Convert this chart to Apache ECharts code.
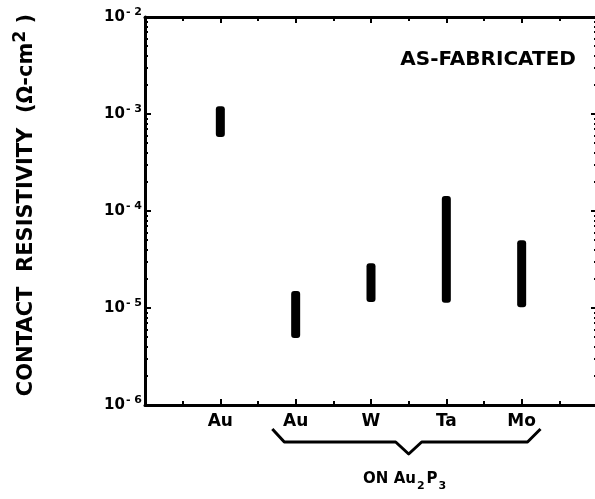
<!DOCTYPE html>
<html>
<head>
<meta charset="utf-8">
<script src="https://cdn.jsdelivr.net/npm/echarts@6/dist/echarts.min.js"></script>
<style>
  html, body { margin: 0; padding: 0; background: #fff; }
  #chart { width: 595px; height: 499px; }
</style>
</head>
<body>
<div id="chart"></div>
<script>
// Contact metals, left to right; the last four sit on Au2P3
const categories = ['Au', 'Au', 'W', 'Ta', 'Mo'];
// Spread of measured contact resistivity (ohm-cm^2) for each metal
const lowValues  = [5.8e-4, 4.9e-6, 1.15e-5, 1.13e-5, 1.02e-5];
const highValues = [1.2e-3, 1.5e-5, 2.9e-5, 1.43e-4, 5.0e-5];
// Decade ticks of the resistivity axis
const decadeTicks = [1e-6, 1e-5, 1e-4, 1e-3, 1e-2];
// Minor ticks inside each decade (2..9 x 10^n)
const minorTicks = [];
decadeTicks.slice(0, -1).forEach(function (d) {
  for (let m = 2; m <= 9; m++) minorTicks.push(m * d);
});

const FONT = 'DejaVu Sans';
const rangeData = categories.map(function (c, i) {
  return [i + 1, lowValues[i], highValues[i]];
});

const chart = echarts.init(document.getElementById('chart'), null, { renderer: 'canvas' });

function logAxis(position, showLabels, ticks, tickLen, showLine) {
  return {
    type: 'log',
    logBase: 10,
    position: position,
    min: 1e-6,
    max: 1e-2,
    splitLine: { show: false },
    axisLine: { show: showLine, onZero: false, lineStyle: { color: '#000', width: 3 } },
    axisTick: {
      show: true, inside: true, length: tickLen, customValues: ticks,
      lineStyle: { color: '#000', width: 2 }
    },
    axisLabel: {
      show: showLabels,
      customValues: decadeTicks,
      margin: 3,
      formatter: function (v) {
        const e = Math.round(-Math.log10(v));
        return '{b|10}{e|- ' + e + '}';
      },
      rich: {
        b: { fontFamily: FONT, fontWeight: 'bold', fontSize: 15, color: '#000' },
        e: { fontFamily: FONT, fontWeight: 'bold', fontSize: 11, color: '#000', padding: [0, 0, 9, 1] }
      }
    }
  };
}

function catAxis(position, showLabels) {
  return {
    type: 'value',
    position: position,
    min: 0,
    max: 6,
    interval: 1,
    splitLine: { show: false },
    axisLine: { show: true, onZero: false, lineStyle: { color: '#000', width: 3 } },
    axisTick: { show: true, inside: true, length: 6, lineStyle: { color: '#000', width: 2 } },
    minorTick: { show: true, splitNumber: 2, length: 4, lineStyle: { color: '#000', width: 2 } },
    axisLabel: {
      show: showLabels,
      margin: 8,
      fontFamily: FONT,
      fontWeight: 'bold',
      fontSize: 17,
      color: '#000',
      showMinLabel: false,
      showMaxLabel: false,
      formatter: function (v) {
        return categories[v - 1] || '';
      }
    }
  };
}

const yMain = logAxis('left', true, decadeTicks, 6, true);
yMain.name = 'CONTACT  RESISTIVITY  (Ω-cm{s|2} )';
yMain.nameLocation = 'middle';
yMain.nameRotate = 90;
yMain.nameGap = 104;
yMain.nameTextStyle = {
  fontFamily: FONT, fontWeight: 'bold', fontSize: 21, color: '#000',
  padding: [0, 0, 0, 12],
  rich: {
    s: { fontFamily: FONT, fontWeight: 'bold', fontSize: 17, color: '#000', padding: [0, 0, 12, 0] }
  }
};

chart.setOption({
  animation: false,
  backgroundColor: '#fff',
  grid: {
    left: 145, top: 17, width: 452, height: 388,
    containLabel: false, outerBoundsMode: 'none'
  },
  xAxis: [catAxis('bottom', true), catAxis('top', false)],
  yAxis: [
    yMain,
    logAxis('left', false, minorTicks, 3, false),
    logAxis('right', false, decadeTicks, 6, true),
    logAxis('right', false, minorTicks, 3, false)
  ],
  series: [{
    type: 'custom',
    xAxisIndex: 0,
    yAxisIndex: 0,
    data: rangeData,
    renderItem: function (params, api) {
      const x = api.value(0);
      const lo = api.coord([x, api.value(1)]);
      const hi = api.coord([x, api.value(2)]);
      const w = 9;
      return {
        type: 'rect',
        shape: { x: lo[0] - w / 2, y: hi[1], width: w, height: lo[1] - hi[1], r: 3 },
        style: { fill: '#000' }
      };
    }
  }]
});

// Brace grouping the metals deposited on Au2P3, anchored to the category axis
const px = function (v) { return chart.convertToPixel({ xAxisIndex: 0 }, v); };
const baseY = chart.convertToPixel({ yAxisIndex: 0 }, 1e-6);
const left = px(1.69), right = px(5.25), mid = px(3.5);
const braceTop = baseY + 24, braceBar = baseY + 37, braceTip = baseY + 49;

chart.setOption({
  graphic: [
    {
      type: 'polyline',
      shape: {
        points: [
          [left, braceTop], [left + 12, braceBar], [mid - 13, braceBar], [mid, braceTip],
          [mid + 13, braceBar], [right - 13, braceBar], [right, braceTop]
        ]
      },
      style: { stroke: '#000', lineWidth: 3, fill: null, lineJoin: 'round' }
    },
    {
      type: 'text',
      x: mid - 3,
      y: baseY + 74,
      style: {
        text: '{n|ON Au}{s|2}{n|P}{s|3}',
        align: 'center',
        verticalAlign: 'middle',
        rich: {
          n: { fontFamily: FONT, fontWeight: 'bold', fontSize: 15, color: '#000' },
          s: { fontFamily: FONT, fontWeight: 'bold', fontSize: 11, color: '#000', padding: [14, 2, 0, 1] }
        }
      }
    },
    {
      type: 'text',
      x: px(5.72),
      y: 60,
      style: {
        text: 'AS-FABRICATED',
        align: 'right',
        verticalAlign: 'middle',
        fontFamily: FONT,
        fontWeight: 'bold',
        fontSize: 20,
        fill: '#000'
      }
    }
  ]
});
</script>
</body>
</html>
